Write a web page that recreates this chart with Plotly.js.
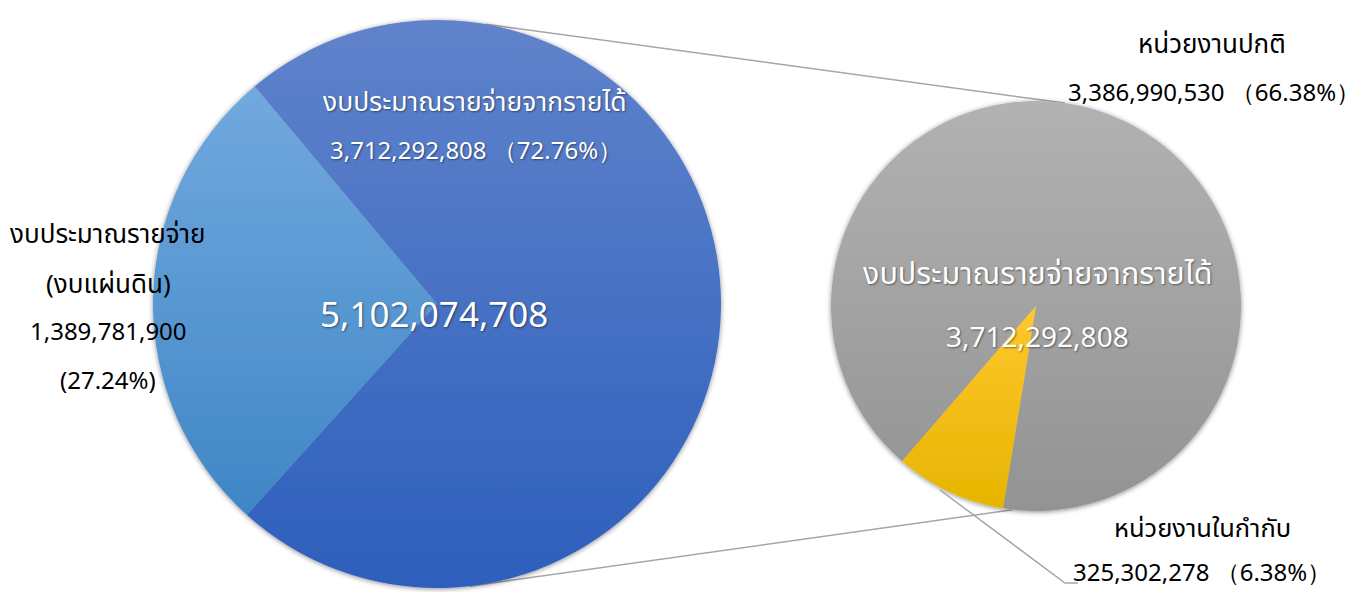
<!DOCTYPE html>
<html>
<head>
<meta charset="utf-8">
<script src="https://cdn.plot.ly/plotly-3.0.1.min.js"></script>
<style>html,body{margin:0;padding:0;background:#fff;}#chart{width:1359px;height:592px;}</style>
</head>
<body>
<div id="chart"></div>
<script>
// ---- data ----
const mainLabels = ['งบประมาณรายจ่าย (งบแผ่นดิน)', 'งบประมาณรายจ่ายจากรายได้'];
const mainValues = [1389781900, 3712292808];
const subLabels = ['หน่วยงานปกติ', 'หน่วยงานในกำกับ'];
const subValues = [3386990530, 325302278];

// ---- helpers ----
const W = 1359, H = 592;
const FONT = '"Noto Sans Thai", "Leelawadee UI", Tahoma, "Noto Sans", sans-serif';
const fmt = v => v.toLocaleString('en-US');
const total = mainValues.reduce((a, b) => a + b, 0);
const subTotal = subValues.reduce((a, b) => a + b, 0);
const pct = v => (v / total * 100).toFixed(2) + '%';
const px = x => x / W;
const py = y => 1 - y / H;

// geometry (pixels)
const big = {cx: 437, cy: 304, r: 284};
const small = {cx: 1036, cy: 306, r: 205};
function domainOf(c) {
  return {x: [px(c.cx - c.r), px(c.cx + c.r)], y: [py(c.cy + c.r), py(c.cy - c.r)]};
}
function onCircle(c, deg) { // compass degrees, clockwise from top
  const a = deg * Math.PI / 180;
  return [c.cx + c.r * Math.sin(a), c.cy - c.r * Math.cos(a)];
}

const traces = [
  {
    type: 'pie', labels: mainLabels, values: mainValues, sort: false,
    direction: 'clockwise', rotation: 222, domain: domainOf(big),
    marker: {colors: ['#5b9bd5', '#4472c4'], line: {width: 0}},
    textinfo: 'none', hoverinfo: 'label+value+percent', showlegend: false
  },
  {
    type: 'pie', labels: subLabels, values: subValues, sort: false,
    direction: 'clockwise', rotation: 220.8, domain: domainOf(small),
    marker: {colors: ['#a5a5a5', '#ffc000'], line: {width: 0}},
    textinfo: 'none', hoverinfo: 'label+value', showlegend: false
  }
];

const shadow = '1px 1px 2px rgba(0,0,0,0.45)';
const white = (s) => ({family: FONT, size: s, color: '#ffffff', shadow: shadow});
const black = (s) => ({family: FONT, size: s, color: '#000000'});
function ann(text, x, y, font) {
  return {text: text, x: px(x), y: py(y), xref: 'paper', yref: 'paper',
          xanchor: 'center', yanchor: 'middle', showarrow: false, font: font};
}
const withPct = v => fmt(v) + ' （' + pct(v) + '）';

const annotations = [
  ann(mainLabels[1], 475, 103, white(26.5)),
  ann(withPct(mainValues[1]), 476, 152, white(24)),
  ann(fmt(total), 434, 316, white(35)),
  ann('งบประมาณรายจ่าย', 108, 235, black(26)),
  ann('(งบแผ่นดิน)', 108, 285, black(26)),
  ann(fmt(mainValues[0]), 108, 333, black(24)),
  ann('(' + pct(mainValues[0]) + ')', 108, 382, black(24)),
  ann(mainLabels[1], 1037, 275, white(30.5)),
  ann(fmt(subTotal), 1037, 338, white(28)),
  ann(subLabels[0], 1212, 45, black(26)),
  ann(withPct(subValues[0]), 1214, 94, black(24)),
  ann(subLabels[1], 1202, 529, black(25.5)),
  ann(withPct(subValues[1]), 1202, 574, black(24))
];

const t1 = onCircle(big, 10), t2 = onCircle(small, 8);
const b1 = onCircle(big, 173.5), b2 = onCircle(small, 186.5);
const lineStyle = {color: '#a6a6a6', width: 1.5};
const shapes = [
  {type: 'line', xref: 'paper', yref: 'paper', x0: px(t1[0]), y0: py(t1[1]), x1: px(t2[0]), y1: py(t2[1]), line: lineStyle, layer: 'below'},
  {type: 'line', xref: 'paper', yref: 'paper', x0: px(b1[0]), y0: py(b1[1]), x1: px(b2[0]), y1: py(b2[1]), line: lineStyle, layer: 'below'},
  {type: 'path', xref: 'paper', yref: 'paper',
   path: 'M' + px(940) + ',' + py(490) + ' L' + px(1065) + ',' + py(583) + ' L' + px(1078) + ',' + py(583),
   line: lineStyle, layer: 'above'}
];

const layout = {
  width: W, height: H, margin: {l: 0, r: 0, t: 0, b: 0},
  paper_bgcolor: '#ffffff', plot_bgcolor: '#ffffff',
  annotations: annotations, shapes: shapes, showlegend: false
};

Plotly.newPlot('chart', traces, layout, {displayModeBar: false, staticPlot: true}).then(gd => {
  const svg = gd.querySelector('.main-svg');
  const NS = 'http://www.w3.org/2000/svg';
  const defs = document.createElementNS(NS, 'defs');
  const grads = [
    ['gLight', '#72a9de', '#3f86c6'],
    ['gDark', '#6083cb', '#2d5fbc'],
    ['gGray', '#b2b2b2', '#939393'],
    ['gYellow', '#ffc82e', '#e6b400']
  ];
  grads.forEach(([id, c0, c1]) => {
    const g = document.createElementNS(NS, 'linearGradient');
    g.setAttribute('id', id);
    g.setAttribute('x1', '0'); g.setAttribute('y1', '0');
    g.setAttribute('x2', '0'); g.setAttribute('y2', '1');
    [[0, c0], [1, c1]].forEach(([o, c]) => {
      const s = document.createElementNS(NS, 'stop');
      s.setAttribute('offset', o); s.setAttribute('stop-color', c);
      g.appendChild(s);
    });
    defs.appendChild(g);
  });
  const f = document.createElementNS(NS, 'filter');
  f.setAttribute('id', 'pieShadow');
  f.setAttribute('x', '-10%'); f.setAttribute('y', '-10%');
  f.setAttribute('width', '120%'); f.setAttribute('height', '120%');
  const ds = document.createElementNS(NS, 'feDropShadow');
  ds.setAttribute('dx', '0'); ds.setAttribute('dy', '1');
  ds.setAttribute('stdDeviation', '2.5'); ds.setAttribute('flood-opacity', '0.45');
  f.appendChild(ds);
  defs.appendChild(f);
  svg.insertBefore(defs, svg.firstChild);
  const traceGroups = gd.querySelectorAll('.pielayer .trace');
  const map = [['gLight', 'gDark'], ['gGray', 'gYellow']];
  traceGroups.forEach((tg, ti) => {
    tg.setAttribute('filter', 'url(#pieShadow)');
    tg.querySelectorAll('.slice path.surface').forEach((p, si) => {
      p.style.fill = 'url(#' + map[ti][si] + ')';
    });
  });
});
</script>
</body>
</html>
